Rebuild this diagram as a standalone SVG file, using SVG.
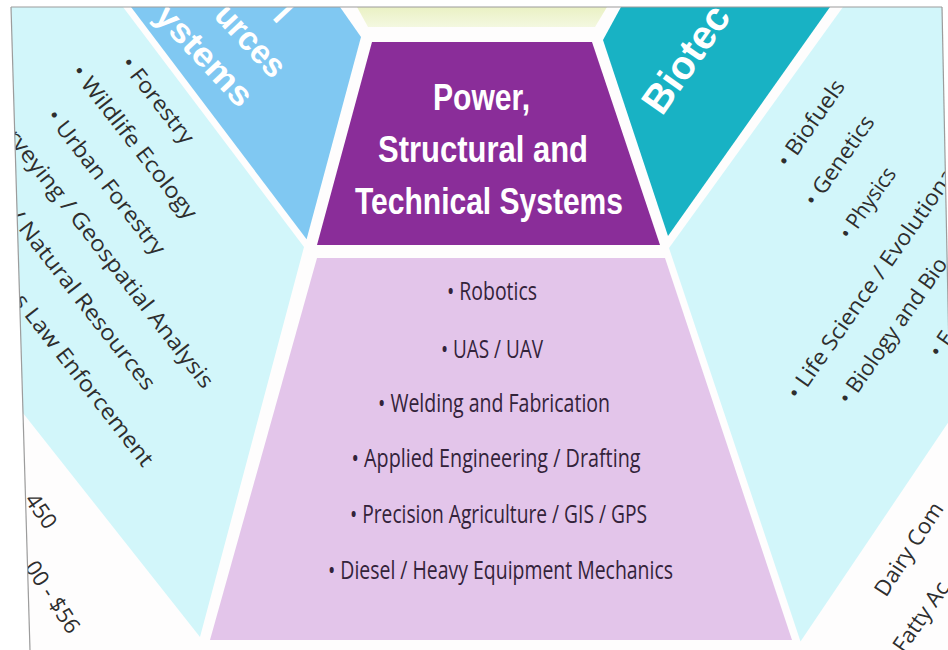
<svg xmlns="http://www.w3.org/2000/svg" width="948" height="650" viewBox="0 0 948 650">
<defs>
<clipPath id="page"><polygon points="11,7 942,7 955,650 30,650"/></clipPath>
<linearGradient id="yel" x1="0" y1="0" x2="0" y2="1"><stop offset="0" stop-color="#eaf1c4"/><stop offset="1" stop-color="#f4f8e0"/></linearGradient>
<style>
.lst{font-family:"Open Sans","DejaVu Sans",sans-serif;font-size:22px;fill:#2e2e2e}
.lav{font-family:"Open Sans","DejaVu Sans",sans-serif;font-size:25px;fill:#33233a}
.hd{font-family:"Liberation Sans",Arial,sans-serif;font-weight:bold;fill:#ffffff}
.cy{fill:#d2f6fa}
</style>
</defs>
<rect x="0" y="0" width="948" height="650" fill="#ffffff"/>
<g clip-path="url(#page)">
<rect x="0" y="0" width="960" height="660" fill="#fefdfd"/>
<g id="natural-resources-list">
<polygon class="cy" points="0,7 123,7 304,247 200,637 0,384"/>
<text class="lst" transform="translate(119.7,63.8) rotate(52)" textLength="104" lengthAdjust="spacingAndGlyphs">• Forestry</text>
<text class="lst" transform="translate(70.3,72) rotate(52)" textLength="189" lengthAdjust="spacingAndGlyphs">• Wildlife Ecology</text>
<text class="lst" transform="translate(45.3,116.4) rotate(52)" textLength="178" lengthAdjust="spacingAndGlyphs">• Urban Forestry</text>
<text class="lst" transform="translate(5.4,136.8) rotate(52)" textLength="321" lengthAdjust="spacingAndGlyphs">rveying / Geospatial Analysis</text>
<text class="lst" transform="translate(8.3,216.9) rotate(52)" textLength="222" lengthAdjust="spacingAndGlyphs">/ Natural Resources</text>
<text class="lst" transform="translate(12.6,301.2) rotate(52)" textLength="212" lengthAdjust="spacingAndGlyphs">s Law Enforcement</text>
</g>
<g id="natural-resources-header">
<polygon fill="#80c8f2" points="131,7 340,7 361,37 306.6,239.3"/>
<text class="hd" font-size="34" transform="translate(153.1,16.9) rotate(47)" textLength="126" lengthAdjust="spacingAndGlyphs">ystems</text>
<text class="hd" font-size="34" transform="translate(212.7,16.4) rotate(47)" textLength="87" lengthAdjust="spacingAndGlyphs">urces</text>
<text class="hd" font-size="34" transform="translate(271.5,18.1) rotate(47)">l</text>
</g>
<g id="top-segment">
<polygon fill="url(#yel)" points="357,7 607,7 595,27 368,27"/>
</g>
<g id="power-header">
<polygon fill="#8a2d99" points="372,42 592,42 660,245 317,245"/>
<text class="hd" font-size="37" x="433" y="110" textLength="97" lengthAdjust="spacingAndGlyphs">Power,</text>
<text class="hd" font-size="37" x="378" y="162" textLength="210" lengthAdjust="spacingAndGlyphs">Structural and</text>
<text class="hd" font-size="37" x="355" y="213.5" textLength="268" lengthAdjust="spacingAndGlyphs">Technical Systems</text>
</g>
<g id="power-list">
<polygon fill="#e3c5ea" points="317,258 665,258 792,640 210,640"/>
<text class="lav" x="447" y="300" textLength="90" lengthAdjust="spacingAndGlyphs">• Robotics</text>
<text class="lav" x="441" y="358" textLength="102" lengthAdjust="spacingAndGlyphs">• UAS / UAV</text>
<text class="lav" x="378" y="411.5" textLength="232" lengthAdjust="spacingAndGlyphs">• Welding and Fabrication</text>
<text class="lav" x="351.5" y="466.5" textLength="289" lengthAdjust="spacingAndGlyphs">• Applied Engineering / Drafting</text>
<text class="lav" x="350" y="523" textLength="297" lengthAdjust="spacingAndGlyphs">• Precision Agriculture / GIS / GPS</text>
<text class="lav" x="328" y="578.5" textLength="345" lengthAdjust="spacingAndGlyphs">• Diesel / Heavy Equipment Mechanics</text>
</g>
<g id="biotech-header">
<polygon fill="#18b2c4" points="621,7 830,7 668,236 603,40"/>
<text class="hd" font-size="40" transform="translate(662,117) rotate(-55)">Biotec</text>
</g>
<g id="biotech-list">
<polygon class="cy" points="843,7 960,7 960,405 800.5,641.5 669,248"/>
<text class="lst" transform="translate(788,169) rotate(-55)" textLength="101" lengthAdjust="spacingAndGlyphs">• Biofuels</text>
<text class="lst" transform="translate(815.2,207.9) rotate(-55)" textLength="105" lengthAdjust="spacingAndGlyphs">• Genetics</text>
<text class="lst" transform="translate(849.9,240.9) rotate(-55)" textLength="82" lengthAdjust="spacingAndGlyphs">• Physics</text>
<text class="lst" transform="translate(798.2,400.9) rotate(-55)" textLength="276" lengthAdjust="spacingAndGlyphs">• Life Science / Evolutiona</text>
<text class="lst" transform="translate(849.2,405.9) rotate(-55)" textLength="173" lengthAdjust="spacingAndGlyphs">• Biology and Bio</text>
<text class="lst" transform="translate(939.9,359.2) rotate(-55)">• E</text>
</g>
<g id="lower-left-segment">
<text class="lst" font-size="23" transform="translate(24,500) rotate(55)">450</text>
<text class="lst" font-size="23" transform="translate(24,567) rotate(57)">00 - $56</text>
</g>
<g id="lower-right-segment">
<text class="lst" transform="translate(886,598) rotate(-57)">Dairy Com</text>
<text class="lst" transform="translate(904,654) rotate(-55)">Fatty Ac</text>
</g>
</g>
<g id="connectors"></g>
<g id="frame" fill="none" stroke="#9c9c9c" stroke-width="1.2">
<line x1="11" y1="7" x2="942" y2="7"/>
<line x1="11" y1="7" x2="30" y2="650"/>
<line x1="942" y1="7" x2="955" y2="650"/>
</g>
</svg>
